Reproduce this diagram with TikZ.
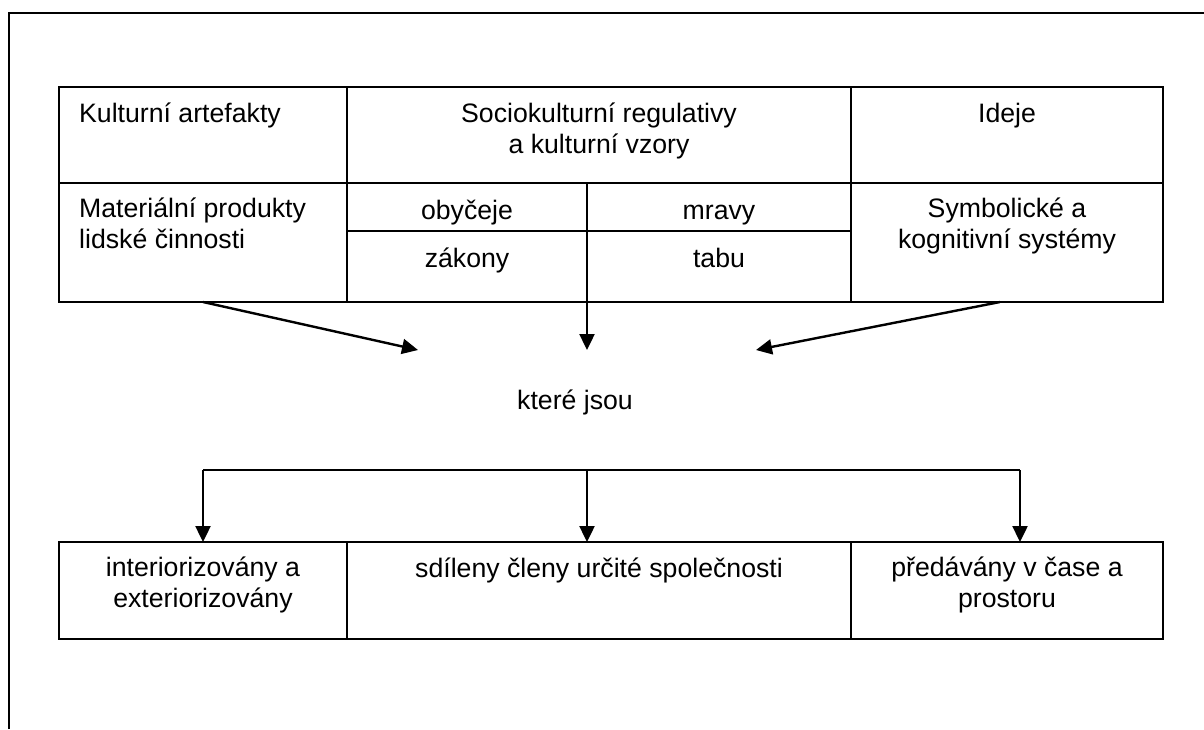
\documentclass[tikz,border=0pt]{standalone}
\usepackage{fontspec}
\setmainfont{Liberation Sans}
\usetikzlibrary{arrows.meta}
\begin{document}
\begin{tikzpicture}[x=1pt,y=-1pt,
  frame/.style={line width=2.8pt},
  grid/.style={line width=2.4pt},
  conn/.style={line width=2.4pt,-{Triangle[length=16pt,width=15pt]}},
  link/.style={line width=2.4pt},
  lbl/.style={font=\fontsize{26.67}{31}\selectfont, inner sep=0pt, align=center, anchor=base},
  lbll/.style={font=\fontsize{26.67}{31}\selectfont, inner sep=0pt, align=left, anchor=base west}]
\useasboundingbox (0,0) rectangle (1204,729);
% outer frame (top and left edges)
\draw[frame] (9,729) -- (9,13) -- (1204,13);
% top table
\draw[grid] (59,87) rectangle (1163,302);
\draw[grid] (59,183) -- (1163,183);
\draw[grid] (347,87) -- (347,302);
\draw[grid] (851,87) -- (851,302);
\draw[grid] (587,183) -- (587,302);
\draw[grid] (347,231) -- (851,231);
% top table texts (multi-line nodes are placed on the baseline of their last line)
\node[lbll] (ka) at (79,122) {Kulturní artefakty};
\node[lbl] (sr) at (599,153) {Sociokulturní regulativy\\a kulturní vzory};
\node[lbl] (id) at (1007,122) {Ideje};
\node[lbll] (mp) at (79,248) {Materiální produkty\\lidské činnosti};
\node[lbl] (ob) at (467,219) {obyčeje};
\node[lbl] (mr) at (719,219) {mravy};
\node[lbl] (za) at (467,267) {zákony};
\node[lbl] (ta) at (719,267) {tabu};
\node[lbl] (sk) at (1007,248) {Symbolické a\\kognitivní systémy};
% middle
\node[lbl] (kj) at (575,409) {které jsou};
\coordinate (s1) at (203,302);
\coordinate (s2) at (587,302);
\coordinate (s3) at (1000,302);
\coordinate (e1) at (418,350);
\coordinate (e2) at (587,350);
\coordinate (e3) at (756,350);
\draw[conn] (s1) -- (e1);
\draw[conn] (s2) -- (e2);
\draw[conn] (s3) -- (e3);
% bottom connector
\coordinate (b1) at (203,470);
\coordinate (b2) at (587,470);
\coordinate (b3) at (1020,470);
\coordinate (c1) at (203,542);
\coordinate (c2) at (587,542);
\coordinate (c3) at (1020,542);
\draw[link] (b1) -- (b3);
\draw[conn] (b1) -- (c1);
\draw[conn] (b2) -- (c2);
\draw[conn] (b3) -- (c3);
% bottom table
\draw[grid] (59,542) rectangle (1163,639);
\draw[grid] (347,542) -- (347,639);
\draw[grid] (851,542) -- (851,639);
\node[lbl] (ie) at (203,607) {interiorizovány a\\exteriorizovány};
\node[lbl] (sc) at (599,577) {sdíleny členy určité společnosti};
\node[lbl] (pc) at (1007,607) {předávány v čase a\\prostoru};
\end{tikzpicture}
\end{document}
